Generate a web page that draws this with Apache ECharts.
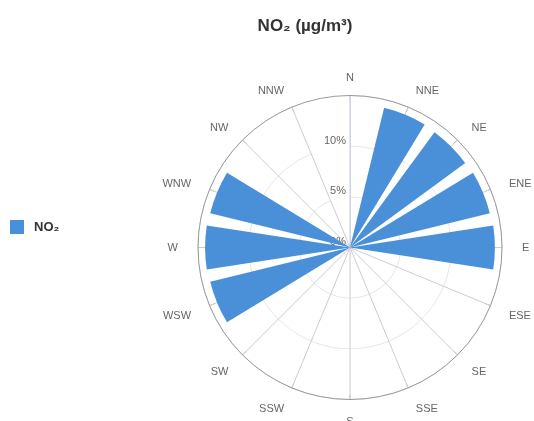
<!DOCTYPE html>
<html><head><meta charset="utf-8">
<script src="https://cdn.jsdelivr.net/npm/echarts@6/dist/echarts.min.js"></script>
<style>html,body{margin:0;padding:0;background:#fff}#c{width:534px;height:421px}</style>
</head><body><div id="c"></div>
<script>
const directions = ['N','NNE','NE','ENE','E','ESE','SE','SSE','S','SSW','SW','WSW','W','WNW','NW','NNW'];
const no2Share = [0, 14.2, 14.1, 14.2, 14.3, 0, 0, 0, 0, 0, 0, 14.2, 14.3, 14.2, 0, 0];
const radialMin = 0, radialMax = 15, radialStep = 5;
const titleText = 'NO\u2082 (\u00b5g/m\u00b3)';
const seriesName = 'NO\u2082';

const FONT = '"Liberation Sans", Arial, Helvetica, sans-serif';
const CENTER = [350, 247.5], RADIUS = 152;
const LABEL_SIZE = 11, LABEL_R = 172, LABEL_DY = 2.5;

// measure label widths to place each direction label (anchored at a fixed radius, vertically centred)
const mctx = document.createElement('canvas').getContext('2d');
mctx.font = LABEL_SIZE + 'px ' + FONT;
function labelPadding(i, txt, n) {
  const th = i * 2 * Math.PI / n;
  const s = Math.sin(th), c = Math.cos(th);
  const px = RADIUS * s, py = -RADIUS * c;
  const ax = LABEL_R * s, ay = -LABEL_R * c + LABEL_DY;
  const w = mctx.measureText(txt).width, lh = LABEL_SIZE;
  let tl;
  if (Math.abs(s) < 0.1) tl = ax - w / 2; else if (s > 0) tl = ax; else tl = ax - w;
  const tt = ay - lh / 2;
  const hA = Math.abs(px) / RADIUS < 0.3 ? 'center' : (px > 0 ? 'left' : 'right');
  const vA = Math.abs(py) / RADIUS < 0.3 ? 'middle' : (py > 0 ? 'top' : 'bottom');
  let pl = 0, pr = 0, pt = 0, pb = 0;
  if (hA === 'left') pl = tl - px;
  else if (hA === 'right') pr = px - (tl + w);
  else { const d = 2 * ((tl + w / 2) - px); if (d > 0) pl = d; else pr = -d; }
  if (vA === 'top') pt = tt - py;
  else if (vA === 'bottom') pb = py - (tt + lh);
  else { const d = 2 * ((tt + lh / 2) - py); if (d > 0) pt = d; else pb = -d; }
  return [pt, pr, pb, pl].map(v => Math.max(0, v));
}
const angleCategories = directions.map((d, i) => ({
  value: d, textStyle: {padding: labelPadding(i, d, directions.length)}
}));

const chart = echarts.init(document.getElementById('c'));
chart.setOption({
  animation: false,
  title: {
    text: titleText, left: 300, top: 13, textAlign: 'center',
    textStyle: {fontFamily: FONT, fontSize: 17, fontWeight: 'bold', color: '#333'}
  },
  legend: {
    data: [seriesName], orient: 'vertical', left: 5, top: 215,
    icon: 'rect', itemWidth: 14, itemHeight: 14, itemGap: 5,
    textStyle: {fontFamily: FONT, fontSize: 13, fontWeight: 'bold', color: '#333', padding: [0,0,0,5]}
  },
  polar: [{center: CENTER, radius: RADIUS}, {center: CENTER, radius: RADIUS}],
  angleAxis: [{
    polarIndex: 0,
    type: 'category', data: angleCategories, startAngle: 90, clockwise: true, boundaryGap: false,
    axisLine: {show: false},
    axisTick: {show: true, inside: true, length: 5, lineStyle: {color: '#bbb'}},
    axisLabel: {color: '#666', fontSize: LABEL_SIZE, fontFamily: FONT, margin: 0},
    splitLine: {show: true, lineStyle: {color: '#ccc', width: 1}}
  }, {
    polarIndex: 1,
    type: 'value', min: 0, max: 360, startAngle: 90,
    axisLine: {show: true, lineStyle: {color: '#999', width: 1}},
    axisTick: {show: false}, axisLabel: {show: false}, splitLine: {show: false}
  }],
  radiusAxis: [{
    polarIndex: 0,
    type: 'value', min: radialMin, max: radialMax, interval: radialStep,
    axisLine: {show: true, lineStyle: {color: '#ccd6eb', width: 1}},
    axisTick: {show: false},
    axisLabel: {formatter: '{value}%', showMaxLabel: false, color: '#666', fontSize: 11, fontFamily: FONT, verticalAlign: 'bottom', margin: 4},
    splitLine: {show: true, lineStyle: {color: '#e6e6e6', width: 1}}
  }, {
    polarIndex: 1, type: 'value', min: 0, max: 1, show: false
  }],
  series: [{
    name: seriesName, type: 'bar', coordinateSystem: 'polar', polarIndex: 0, data: no2Share,
    barCategoryGap: '22%', itemStyle: {color: '#4a90d9'}, z: 3
  }]
});
</script></body></html>
